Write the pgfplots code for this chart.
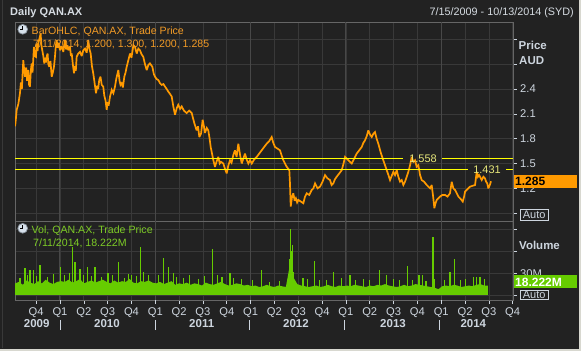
\documentclass[border=0pt]{standalone}
\usepackage{pgfplots}
\pgfplotsset{compat=1.18}
\usepackage{pgfplotstable}
\usepackage{fontspec}
\setmainfont{Liberation Sans}
\definecolor{bg}{HTML}{222222}
\definecolor{gridc}{HTML}{393939}
\definecolor{yeargrid}{HTML}{484848}
\definecolor{framec}{HTML}{666666}
\definecolor{txt}{HTML}{CDD5DE}
\definecolor{titlec}{HTML}{D6DCE2}
\definecolor{orangeL}{HTML}{FF9A00}
\definecolor{orangeT}{HTML}{F29B26}
\definecolor{volg}{HTML}{66CC00}
\definecolor{volT}{HTML}{7DCB26}
\definecolor{yel}{HTML}{FFFF00}
\definecolor{yelT}{HTML}{E6E67A}
\definecolor{borderL}{HTML}{D8D8D0}
\definecolor{clockring}{HTML}{8C96A0}
\definecolor{clockface}{HTML}{D7E1EB}

\pgfplotstableread{
x y
2009.528 1.95
2009.533 1.99
2009.546 2.15
2009.563 2.22
2009.580 2.35
2009.590 2.48
2009.600 2.40
2009.615 2.75
2009.625 2.62
2009.633 2.55
2009.645 2.66
2009.655 2.50
2009.667 2.63
2009.676 2.45
2009.685 2.43
2009.694 2.62
2009.703 2.71
2009.712 2.60
2009.727 2.91
2009.738 2.80
2009.748 2.79
2009.756 2.95
2009.765 2.86
2009.772 2.95
2009.782 3.00
2009.797 3.07
2009.805 2.93
2009.814 2.87
2009.825 2.80
2009.835 2.71
2009.843 2.78
2009.852 2.72
2009.860 2.79
2009.870 2.83
2009.878 2.70
2009.888 2.67
2009.900 2.74
2009.913 2.55
2009.925 2.60
2009.937 2.67
2009.948 2.80
2009.956 2.92
2009.965 2.99
2009.975 2.90
2009.985 2.96
2010.000 2.87
2010.018 2.92
2010.035 2.85
2010.052 2.99
2010.065 2.88
2010.078 2.93
2010.087 2.87
2010.105 2.91
2010.115 2.80
2010.123 2.83
2010.135 2.70
2010.147 2.59
2010.158 2.68
2010.166 2.62
2010.175 2.79
2010.192 2.83
2010.210 2.85
2010.228 2.80
2010.245 2.87
2010.262 2.89
2010.280 2.84
2010.297 2.99
2010.310 2.88
2010.322 2.83
2010.335 2.68
2010.349 2.59
2010.360 2.50
2010.378 2.35
2010.390 2.44
2010.400 2.40
2010.412 2.51
2010.425 2.55
2010.438 2.45
2010.454 2.43
2010.465 2.32
2010.478 2.26
2010.490 2.15
2010.500 2.24
2010.510 2.20
2010.525 2.31
2010.543 2.39
2010.560 2.35
2010.577 2.43
2010.590 2.52
2010.600 2.57
2010.612 2.63
2010.625 2.50
2010.635 2.45
2010.647 2.47
2010.660 2.42
2010.675 2.55
2010.688 2.60
2010.700 2.67
2010.715 2.74
2010.735 2.83
2010.750 2.78
2010.770 2.93
2010.787 2.91
2010.805 2.83
2010.822 2.89
2010.839 2.87
2010.856 2.82
2010.874 2.79
2010.892 2.70
2010.910 2.63
2010.927 2.69
2010.944 2.71
2010.969 2.67
2010.985 2.58
2010.997 2.55
2011.015 2.52
2011.031 2.51
2011.050 2.47
2011.067 2.45
2011.085 2.46
2011.102 2.43
2011.120 2.40
2011.136 2.37
2011.155 2.34
2011.172 2.31
2011.189 2.19
2011.207 2.09
2011.225 2.17
2011.241 2.21
2011.260 2.16
2011.277 2.19
2011.300 2.14
2011.329 2.11
2011.355 2.14
2011.382 2.11
2011.409 1.99
2011.434 1.90
2011.448 1.95
2011.462 1.82
2011.480 1.86
2011.497 2.03
2011.510 1.95
2011.521 1.87
2011.540 1.93
2011.556 1.90
2011.570 1.80
2011.581 1.70
2011.595 1.62
2011.609 1.54
2011.626 1.46
2011.642 1.52
2011.661 1.58
2011.676 1.50
2011.690 1.52
2011.714 1.50
2011.730 1.44
2011.749 1.38
2011.765 1.47
2011.784 1.54
2011.800 1.51
2011.818 1.60
2011.836 1.66
2011.853 1.58
2011.871 1.74
2011.890 1.60
2011.907 1.50
2011.924 1.56
2011.941 1.62
2011.958 1.55
2011.976 1.50
2011.994 1.54
2012.012 1.50
2012.038 1.55
2012.064 1.58
2012.090 1.62
2012.116 1.66
2012.142 1.70
2012.169 1.74
2012.195 1.77
2012.221 1.82
2012.238 1.75
2012.256 1.70
2012.282 1.68
2012.308 1.66
2012.325 1.60
2012.343 1.54
2012.361 1.50
2012.379 1.46
2012.406 1.42
2012.413 1.26
2012.421 0.98
2012.435 1.10
2012.448 1.14
2012.462 1.05
2012.475 1.08
2012.488 1.03
2012.501 1.06
2012.527 1.04
2012.553 1.02
2012.571 1.10
2012.589 1.14
2012.615 1.12
2012.641 1.18
2012.659 1.20
2012.676 1.26
2012.702 1.20
2012.728 1.22
2012.755 1.28
2012.781 1.36
2012.807 1.32
2012.833 1.30
2012.850 1.24
2012.868 1.26
2012.885 1.31
2012.903 1.34
2012.930 1.38
2012.956 1.42
2012.975 1.50
2012.991 1.58
2013.008 1.56
2013.025 1.54
2013.043 1.52
2013.061 1.50
2013.087 1.56
2013.113 1.62
2013.140 1.66
2013.166 1.70
2013.183 1.75
2013.200 1.78
2013.218 1.83
2013.235 1.90
2013.253 1.85
2013.271 1.82
2013.288 1.86
2013.305 1.88
2013.322 1.80
2013.340 1.74
2013.366 1.63
2013.392 1.54
2013.410 1.48
2013.428 1.42
2013.446 1.36
2013.463 1.30
2013.480 1.35
2013.498 1.40
2013.515 1.36
2013.533 1.42
2013.550 1.34
2013.568 1.28
2013.585 1.30
2013.603 1.24
2013.620 1.28
2013.638 1.34
2013.655 1.40
2013.673 1.48
2013.690 1.58
2013.708 1.52
2013.725 1.54
2013.742 1.46
2013.760 1.48
2013.778 1.36
2013.795 1.30
2013.820 1.28
2013.848 1.24
2013.865 1.22
2013.883 1.20
2013.900 1.24
2013.917 1.08
2013.928 0.96
2013.940 1.02
2013.953 1.06
2013.970 1.08
2013.987 1.10
2014.013 1.12
2014.040 1.12
2014.066 1.10
2014.092 1.14
2014.110 1.28
2014.127 1.20
2014.145 1.18
2014.163 1.14
2014.180 1.10
2014.197 1.08
2014.212 1.06
2014.226 1.04
2014.240 1.10
2014.250 1.16
2014.276 1.19
2014.302 1.22
2014.328 1.23
2014.355 1.24
2014.372 1.40
2014.385 1.34
2014.397 1.36
2014.411 1.33
2014.425 1.30
2014.442 1.34
2014.459 1.32
2014.471 1.28
2014.483 1.26
2014.494 1.20
2014.510 1.24
2014.523 1.285
}\pricedata

\pgfplotstableread{
x v
2009.53 16
2009.57 18
2009.61 14
2009.65 20
2009.69 17
2009.73 15
2009.77 19
2009.81 16
2009.85 21
2009.89 17
2009.93 15
2009.97 18
2010.01 19
2010.05 18
2010.09 21
2010.13 17
2010.17 19
2010.21 22
2010.25 16
2010.29 18
2010.33 20
2010.37 17
2010.41 19
2010.45 21
2010.49 18
2010.53 16
2010.57 20
2010.61 17
2010.65 19
2010.69 18
2010.73 22
2010.77 17
2010.81 16
2010.85 19
2010.89 18
2010.93 20
2010.97 17
2011.01 16
2011.05 18
2011.09 15
2011.13 17
2011.17 19
2011.21 14
2011.25 16
2011.29 15
2011.33 17
2011.37 14
2011.41 16
2011.45 15
2011.49 13
2011.53 17
2011.57 15
2011.61 14
2011.65 16
2011.69 18
2011.73 15
2011.77 13
2011.81 14
2011.85 16
2011.89 15
2011.93 13
2011.97 14
2012.01 12
2012.05 13
2012.09 11
2012.13 12
2012.17 14
2012.21 12
2012.25 11
2012.29 13
2012.33 12
2012.37 11
2012.41 40
2012.45 24
2012.49 15
2012.53 13
2012.57 12
2012.61 11
2012.65 12
2012.69 13
2012.73 11
2012.77 12
2012.81 14
2012.85 12
2012.89 11
2012.93 13
2012.97 12
2013.01 13
2013.05 12
2013.09 14
2013.13 13
2013.17 12
2013.21 11
2013.25 13
2013.29 12
2013.33 14
2013.37 13
2013.41 15
2013.45 13
2013.49 12
2013.53 11
2013.57 12
2013.61 14
2013.65 12
2013.69 13
2013.73 15
2013.77 14
2013.81 13
2013.85 12
2013.89 11
2013.93 10
2013.97 8
2014.01 12
2014.05 13
2014.09 12
2014.13 14
2014.17 13
2014.21 11
2014.25 12
2014.29 13
2014.33 12
2014.37 14
2014.41 15
2014.45 13
2014.49 13
}\volbase

\pgfplotstableread{
x v
2009.580 24
2009.633 37
2009.660 28
2009.685 34
2009.720 35
2009.750 26
2009.790 41
2009.870 25
2009.930 29
2010.007 39
2010.050 27
2010.100 30
2010.133 66
2010.157 46
2010.210 36
2010.250 28
2010.286 39
2010.330 26
2010.367 39
2010.440 25
2010.504 30
2010.550 27
2010.612 46
2010.680 24
2010.720 29
2010.752 28
2010.800 26
2010.847 66
2010.874 32
2010.930 27
2011.030 28
2011.084 51
2011.136 39
2011.189 30
2011.220 25
2011.300 24
2011.360 27
2011.450 22
2011.520 26
2011.598 63
2011.650 28
2011.700 25
2011.784 30
2011.820 24
2011.900 22
2012.020 20
2012.116 34
2012.200 18
2012.300 19
2012.406 49
2012.416 91
2012.427 60
2012.437 69
2012.448 32
2012.550 24
2012.600 22
2012.668 47
2012.720 20
2012.800 21
2012.868 31
2012.950 23
2013.043 27
2013.100 20
2013.180 22
2013.250 21
2013.351 34
2013.428 28
2013.500 22
2013.560 20
2013.644 40
2013.700 21
2013.767 27
2013.799 27
2013.840 19
2013.914 80
2013.930 22
2014.030 21
2014.092 31
2014.137 49.5
2014.200 20
2014.250 22
2014.337 25
2014.372 25
2014.407 25
2014.450 22
}\volspikes

\pgfplotsset{
  panel/.style={
    scale only axis, width=498pt,
    xmin=2009.528, xmax=2014.753,
    axis background/.style={fill=bg},
    axis line style={draw=framec, line width=0.8pt},
    xtick={2009.75,2010,2010.25,2010.5,2010.75,2011,2011.25,2011.5,2011.75,2012,2012.25,2012.5,2012.75,2013,2013.25,2013.5,2013.75,2014,2014.25,2014.5,2014.75},
    grid=major, major grid style={draw=gridc, line width=0.7pt},
    extra x ticks={2010,2011,2012,2013,2014}, extra x tick labels={},
    extra x tick style={grid=major, major grid style={draw=yeargrid, line width=1pt}, tick style={draw=none}},
    ytick pos=right, yticklabel pos=right,
    tick align=outside, major tick length=4pt,
    y tick style={draw=txt, line width=0.6pt},
    yticklabel style={font=\fontsize{11.2}{13}\selectfont, text=txt, anchor=west, inner sep=0pt, xshift=3pt},
  }
}

\begin{document}
\begin{tikzpicture}[x=1pt,y=1pt]
\fill[bg] (0pt,0pt) rectangle (581pt,351pt);
\draw[gridc, line width=0.8pt] (2.5pt,3pt) -- (2.5pt,351pt);
\fill[borderL] (578.5pt,0pt) rectangle (581pt,351pt);
\fill[borderL] (0pt,0pt) rectangle (581pt,2.5pt);

% ---------- price panel ----------
\begin{axis}[panel,
  at={(15pt,130pt)}, anchor=south west, height=199pt,
  ymin=0.805, ymax=3.211,
  xticklabels={}, x tick style={draw=none},
  ytick={0.9,1.2,1.5,1.8,2.1,2.4,2.7,3.0},
  yticklabels={,1.2,1.5,1.8,2.1,2.4,,},
]
\addplot[orangeL, line width=1.7pt, line join=miter, miter limit=3] table[x=x,y=y] {\pricedata};
\addplot[yel, line width=1.2pt] coordinates {(2009.528,1.558) (2013.602,1.558)};
\addplot[yel, line width=1.2pt] coordinates {(2014.012,1.558) (2014.753,1.558)};
\addplot[yel, line width=1.2pt] coordinates {(2009.528,1.431) (2014.278,1.431)};
\addplot[yel, line width=1.2pt] coordinates {(2014.680,1.431) (2014.753,1.431)};
\node[font=\fontsize{11}{13}\selectfont, text=yelT, inner sep=0pt] at (axis cs:2013.809,1.562) {1.558};
\node[font=\fontsize{11}{13}\selectfont, text=yelT, inner sep=0pt] at (axis cs:2014.481,1.420) {1.431};
\end{axis}

% ---------- volume panel ----------
\begin{axis}[panel,
  at={(15pt,51pt)}, anchor=south west, height=79pt,
  ymin=-6.88, ymax=101.8,
  xticklabels={Q4,Q1,Q2,Q3,Q4,Q1,Q2,Q3,Q4,Q1,Q2,Q3,Q4,Q1,Q2,Q3,Q4,Q1,Q2,Q3,Q4},
  xtick pos=bottom,
  x tick style={draw=txt, line width=0.6pt},
  xticklabel style={font=\fontsize{11.2}{13}\selectfont, text=txt, anchor=base, inner sep=0pt, yshift=-11pt},
  ytick={0,30,60,90},
  yticklabels={,30M,,},
]
\addplot[fill=volg, draw=none] table[x=x,y=v] {\volbase} \closedcycle;
\addplot[volg, ycomb, line width=1.1pt] table[x=x,y=v] {\volspikes};
\end{axis}

% ---------- texts ----------
\node[anchor=base west, font=\bfseries\fontsize{11}{13}\selectfont, text=titlec, inner sep=0pt] at (10pt,335.5pt) {Daily QAN.AX};
\node[anchor=base east, font=\fontsize{10.8}{13}\selectfont, text=titlec, inner sep=0pt] at (574pt,335pt) {7/15/2009 - 10/13/2014 (SYD)};

% price legend
\begin{scope}[shift={(22.7pt,321.7pt)}]
\fill[clockring] (0pt,0pt) circle (5.3pt);
\fill[clockface] (0pt,0pt) circle (4.3pt);
\draw[black, line width=1pt] (0pt,0pt) -- (0pt,3.2pt) (0pt,0pt) -- (-3pt,0pt);
\end{scope}
\node[anchor=base west, font=\fontsize{10.6}{13}\selectfont, text=orangeT, inner sep=0pt] at (31.5pt,316.7pt) {BarOHLC, QAN.AX, Trade Price};
\node[anchor=base west, font=\fontsize{10.6}{13}\selectfont, text=orangeT, inner sep=0pt] at (33pt,303.3pt) {7/11/2014, 1.200, 1.300, 1.200, 1.285};

% volume legend
\begin{scope}[shift={(22.7pt,122.7pt)}]
\fill[clockring] (0pt,0pt) circle (5.3pt);
\fill[clockface] (0pt,0pt) circle (4.3pt);
\draw[black, line width=1pt] (0pt,0pt) -- (0pt,3.2pt) (0pt,0pt) -- (-3pt,0pt);
\end{scope}
\node[anchor=base west, font=\fontsize{10.6}{13}\selectfont, text=volT, inner sep=0pt] at (31.5pt,117.7pt) {Vol, QAN.AX, Trade Price};
\node[anchor=base west, font=\fontsize{10.6}{13}\selectfont, text=volT, inner sep=0pt] at (33pt,104.3pt) {7/11/2014, 18.222M};

% right axis titles
\node[anchor=base west, font=\bfseries\fontsize{11.5}{13}\selectfont, text=txt, inner sep=0pt] at (518.5pt,301pt) {Price};
\node[anchor=base west, font=\bfseries\fontsize{11.5}{13}\selectfont, text=txt, inner sep=0pt] at (519pt,286pt) {AUD};
\node[anchor=base west, font=\bfseries\fontsize{11.5}{13}\selectfont, text=txt, inner sep=0pt] at (519pt,101pt) {Volume};

% last value boxes
\fill[orangeL] (514pt,162.7pt) rectangle (577pt,176pt);
\node[anchor=base west, font=\bfseries\fontsize{12}{14}\selectfont, text=black, inner sep=0pt] at (515pt,165pt) {1.285};
\fill[volg] (514pt,63.3pt) rectangle (577pt,76pt);
\node[anchor=base west, font=\bfseries\fontsize{12}{14}\selectfont, text=white, inner sep=0pt] at (515pt,65pt) {18.222M};

% Auto boxes
\draw[txt, line width=0.8pt, fill=bg] (520pt,131pt) rectangle (548.3pt,142pt);
\node[font=\fontsize{11}{13}\selectfont, text=txt, inner sep=0pt] at (534.2pt,136.3pt) {Auto};
\draw[txt, line width=0.8pt, fill=bg] (520pt,51.7pt) rectangle (548.3pt,61pt);
\node[font=\fontsize{11}{13}\selectfont, text=txt, inner sep=0pt] at (534.2pt,56.3pt) {Auto};

% years
\foreach \xx/\lab in {36.7/2009,107/2010,201.7/2011,296/2012,393/2013,473.3/2014}
  \node[anchor=base, font=\bfseries\fontsize{11.5}{13}\selectfont, text=txt, inner sep=0pt] at (\xx pt,23.3pt) {\lab};
\foreach \xx in {60.3,155.7,249.3,344.3,439.7}
  \draw[txt, line width=0.8pt] (\xx pt,21pt) -- (\xx pt,31pt);

\pgfresetboundingbox
\path (0pt,0pt) rectangle (581pt,351pt);
\end{tikzpicture}
\end{document}
